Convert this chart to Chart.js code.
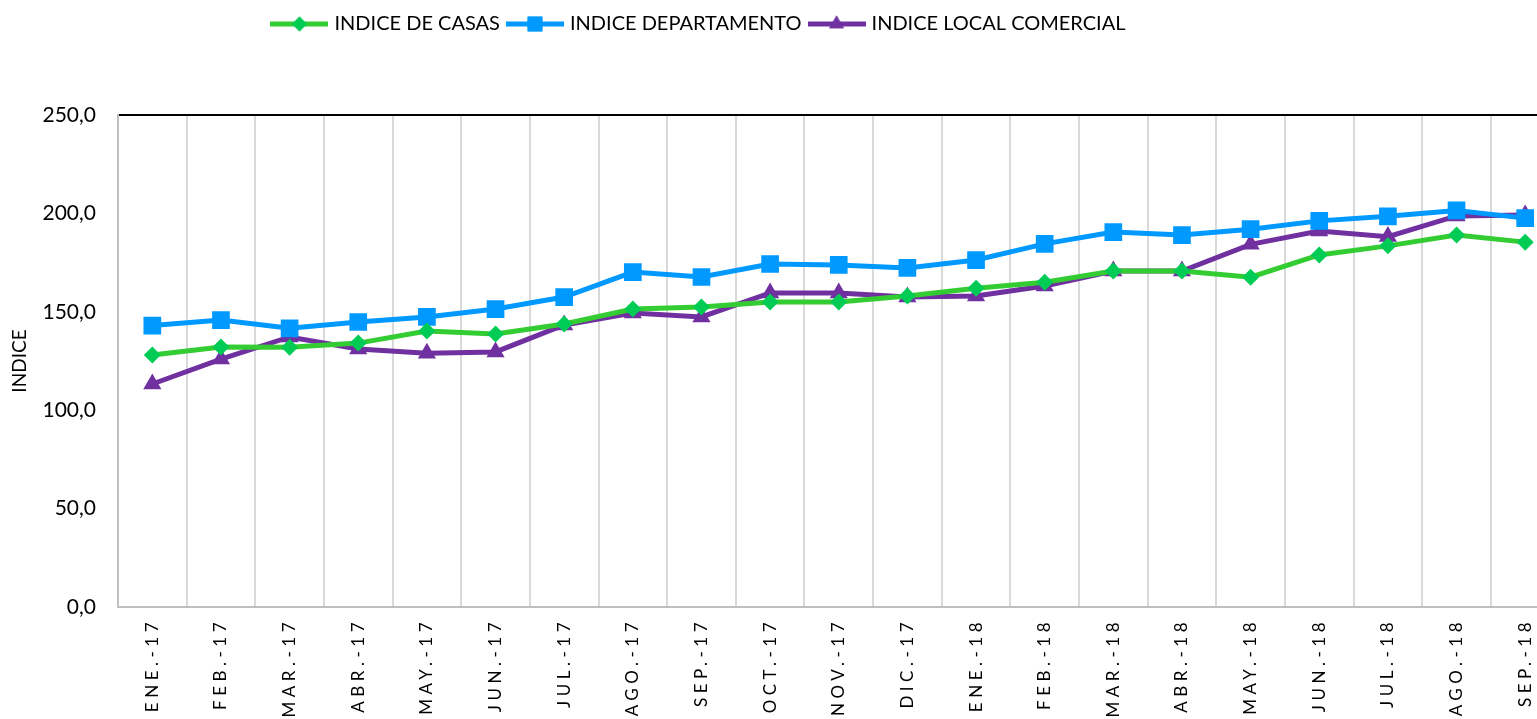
<!DOCTYPE html>
<html>
<head>
<meta charset="utf-8">
<script src="https://cdn.jsdelivr.net/npm/chart.js@4.4.0/dist/chart.umd.min.js"></script>
<style>
  html, body { margin: 0; padding: 0; background: #fff; overflow: hidden; }
  #wrap { position: absolute; left: 0; top: 0; width: 1572px; height: 719px; }
</style>
</head>
<body>
<div id="wrap"><canvas id="chart"></canvas></div>
<script>
// meses
const labels = ['ENE.-17', 'FEB.-17', 'MAR.-17', 'ABR.-17', 'MAY.-17', 'JUN.-17', 'JUL.-17',
  'AGO.-17', 'SEP.-17', 'OCT.-17', 'NOV.-17', 'DIC.-17', 'ENE.-18', 'FEB.-18', 'MAR.-18',
  'ABR.-18', 'MAY.-18', 'JUN.-18', 'JUL.-18', 'AGO.-18', 'SEP.-18'];

// indices
const casas = [128.0, 132.1, 132.0, 134.1, 140.2, 138.7, 143.8, 151.4, 152.4, 155.0, 155.0,
  158.0, 162.0, 165.0, 170.7, 170.7, 167.6, 178.9, 183.5, 189.0, 185.4];
const departamento = [143.0, 145.8, 141.6, 144.8, 147.4, 151.4, 157.5, 170.2, 167.7, 174.3, 173.8,
  172.3, 176.3, 184.5, 190.5, 189.0, 192.0, 196.2, 198.5, 201.5, 197.6];
const localComercial = [113.3, 126.0, 137.2, 131.1, 129.0, 129.6, 143.3, 149.4, 147.4, 159.6, 159.6,
  157.5, 158.0, 163.1, 170.7, 170.7, 184.3, 191.0, 188.2, 198.7, 199.2];

const yTicks = [0, 50, 100, 150, 200, 250];

const FONT = 'Lato';

// letter spaced month labels (like the Excel axis)
const baseDrawLabels = Chart.Scale.prototype.drawLabels;
Chart.CategoryScale.prototype.drawLabels = function(area) {
  this.ctx.save();
  this.ctx.letterSpacing = '4.5px';
  baseDrawLabels.call(this, area);
  this.ctx.restore();
};

// legend icon: short line with the marker in the middle
function legendIcon(lineColor, markColor, style, r) {
  const c = document.createElement('canvas');
  c.width = 58;
  c.height = 24;
  const g = c.getContext('2d');
  g.strokeStyle = lineColor;
  g.lineWidth = 5;
  g.beginPath();
  g.moveTo(0, 12);
  g.lineTo(58, 12);
  g.stroke();
  g.fillStyle = markColor;
  Chart.helpers.drawPoint(g, { pointStyle: style, radius: r, rotation: 0, borderWidth: 0 }, 29, 12);
  g.fill();
  return c;
}

const icons = [
  legendIcon('#33CC33', '#00CC55', 'rectRot', 7.5),
  legendIcon('#0099FF', '#0099FF', 'rect', 10.5),
  legendIcon('#7030A0', '#7030A0', 'triangle', 8.5)
];

const legendSpace = {
  id: 'legendSpace',
  beforeInit(chart) {
    const fit = chart.legend.fit;
    chart.legend.fit = function() {
      fit.call(this);
      this.height += 71;
    };
  },
  afterLayout(chart) {
    // center the legend where Excel had it
    chart.legend.left = 0;
    chart.legend.right = 1400;
  }
};

new Chart(document.getElementById('chart'), {
  type: 'line',
  data: {
    labels: labels,
    datasets: [{
      label: 'INDICE DE CASAS',
      data: casas,
      borderColor: '#33CC33',
      backgroundColor: '#00CC55',
      borderWidth: 5,
      pointStyle: 'rectRot',
      pointRadius: 8.5,
      pointBorderWidth: 0,
      pointBackgroundColor: '#00CC55',
      tension: 0
    }, {
      label: 'INDICE DEPARTAMENTO',
      data: departamento,
      borderColor: '#0099FF',
      backgroundColor: '#0099FF',
      borderWidth: 5,
      pointStyle: 'rect',
      pointRadius: 12.5,
      pointBorderWidth: 0,
      pointBackgroundColor: '#0099FF',
      tension: 0
    }, {
      label: 'INDICE LOCAL COMERCIAL',
      data: localComercial,
      borderColor: '#7030A0',
      backgroundColor: '#7030A0',
      borderWidth: 5,
      pointStyle: 'triangle',
      pointRadius: 10.5,
      pointBorderWidth: 0,
      pointBackgroundColor: '#7030A0',
      tension: 0
    }]
  },
  options: {
    responsive: true,
    maintainAspectRatio: false,
    animation: false,
    layout: { padding: { top: 4, left: 0, right: 0, bottom: 0 } },
    plugins: {
      legend: {
        position: 'top',
        labels: {
          usePointStyle: true,
          pointStyleWidth: 50,
          padding: 10,
          color: '#000',
          font: { family: FONT, size: 20 },
          generateLabels(chart) {
            const items = Chart.defaults.plugins.legend.labels.generateLabels(chart);
            items.forEach((it, i) => { it.pointStyle = icons[i]; });
            return items;
          }
        }
      },
      tooltip: { enabled: false }
    },
    scales: {
      x: {
        offset: true,
        grid: {
          offset: true,
          color: '#D9D9D9',
          lineWidth: 2,
          drawTicks: false
        },
        border: { color: '#BFBFBF', width: 2 },
        ticks: {
          autoSkip: false,
          minRotation: 90,
          maxRotation: 90,
          padding: 11,
          color: '#000',
          font: { family: FONT, size: 17 }
        },
        afterFit(scale) { scale.height = 112; }
      },
      y: {
        min: 0,
        max: 250,
        afterBuildTicks(scale) { scale.ticks = yTicks.map(v => ({ value: v })); },
        grid: {
          color: ctx => (ctx.tick && ctx.tick.value === 250 ? '#000' : 'rgba(0,0,0,0)'),
          lineWidth: 2,
          drawTicks: false
        },
        border: { color: '#BFBFBF', width: 2 },
        ticks: {
          padding: 22,
          color: '#000',
          font: { family: FONT, size: 21 },
          callback: v => v.toFixed(1).replace('.', ',')
        },
        title: {
          display: true,
          text: 'INDICE',
          color: '#000',
          font: { family: FONT, size: 19 },
          padding: { top: 8, bottom: 2 }
        },
        afterFit(scale) { scale.width = 118; }
      }
    }
  },
  plugins: [legendSpace]
});
</script>
</body>
</html>
